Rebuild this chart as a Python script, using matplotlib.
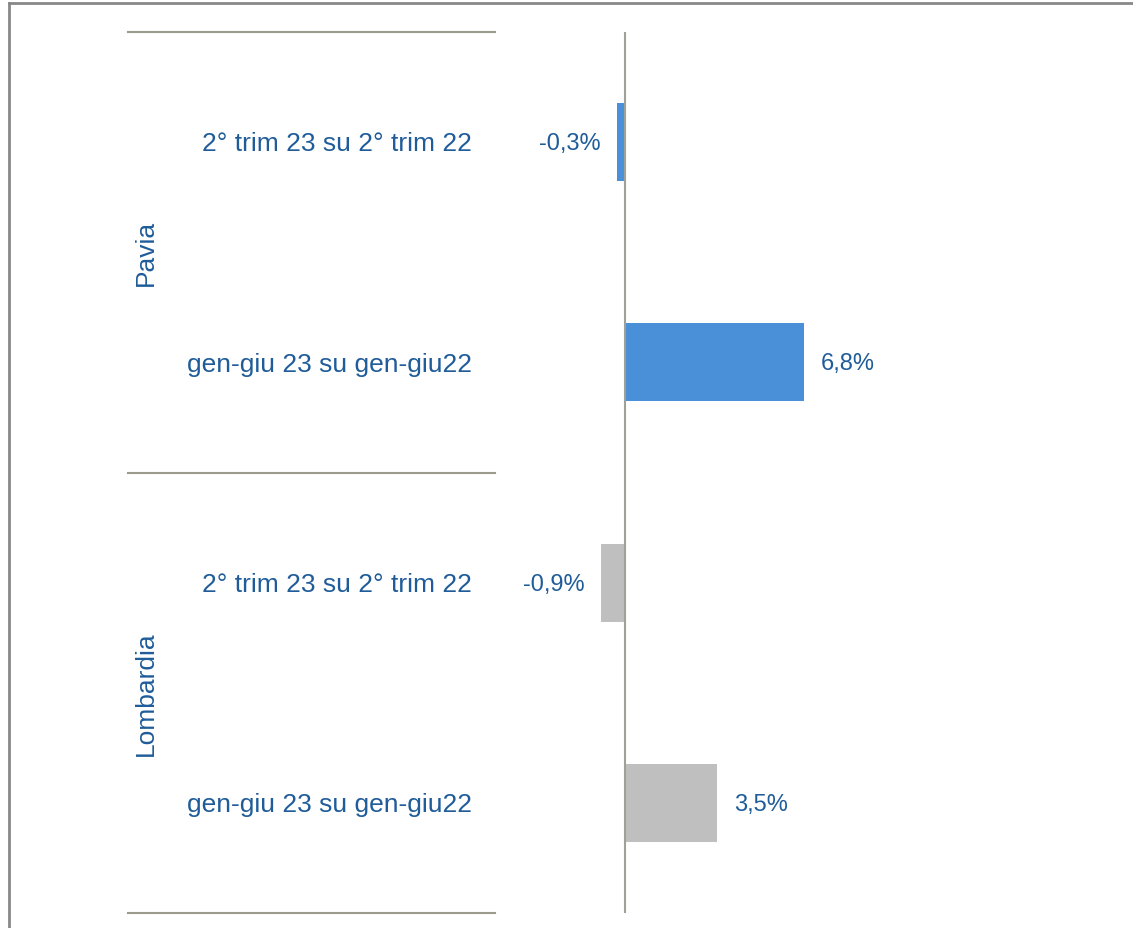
import matplotlib
matplotlib.use("Agg")
import matplotlib.pyplot as plt
import matplotlib.transforms as mtransforms
from matplotlib.lines import Line2D

plt.rcParams['font.family'] = ['Liberation Sans', 'DejaVu Sans']

# --- data ---
groups = ['Pavia', 'Lombardia']
periods = ['2° trim 23 su 2° trim 22', 'gen-giu 23 su gen-giu22']
pavia_vals = [-0.3, 6.8]
lombardia_vals = [-0.9, 3.5]
value_labels = ['-0,3%', '6,8%', '-0,9%', '3,5%']

blue = '#4A90D9'
grey = '#BFBFBF'
text_col = '#1F5C99'
line_col = '#9C9C8E'

W, H = 1133, 929
fig = plt.figure(figsize=(W / 100, H / 100), dpi=100)

# axes in pixel geometry
ax_l, ax_r, ax_t, ax_b = 128, 1120, 33, 914
ax = fig.add_axes([ax_l / W, 1 - ax_b / H, (ax_r - ax_l) / W, (ax_b - ax_t) / H])

px_per_pct = 26.25
zero_px = 625
ax.set_xlim(-(zero_px - ax_l) / px_per_pct, (ax_r - zero_px) / px_per_pct)
ax.set_ylim(3.5, -0.5)

vals = pavia_vals + lombardia_vals
colors = [blue, blue, grey, grey]
ypos = list(range(len(vals)))
ax.barh(ypos, vals, height=0.354, color=colors, zorder=2)

# zero line
ax.axvline(0, color='#A0A09A', linewidth=1.5, zorder=3)

# group separators
sep_end = (495 - ax_l) / (ax_r - ax_l)
for y in [-0.5, 1.5, 3.5]:
    ax.axhline(y, xmin=0, xmax=sep_end, color=line_col, linewidth=1.5, clip_on=False)

trans = mtransforms.blended_transform_factory(ax.transAxes, ax.transData)
lab_x = (472 - ax_l) / (ax_r - ax_l)
for i, y in enumerate(ypos):
    ax.text(lab_x, y + 0.006, periods[i % 2], transform=trans, ha='right', va='center',
            fontsize=19, color=text_col)

grp_x = (146 - ax_l) / (ax_r - ax_l)
for g, name in enumerate(groups):
    ax.text(grp_x, 2 * g + 0.5, name, transform=trans, ha='center', va='center',
            rotation=90, fontsize=19, color=text_col)

# value labels
for y, v, lab in zip(ypos, vals, value_labels):
    off = 17 if v >= 0 else -17
    ax.annotate(lab, (v, y), xytext=(off, -1), textcoords='offset pixels',
                ha='left' if v >= 0 else 'right', va='center',
                fontsize=17, color=text_col)

for s in ax.spines.values():
    s.set_visible(False)
ax.set_xticks([])
ax.set_yticks([])
ax.patch.set_alpha(0)

# outer frame (top and left)
fig.add_artist(Line2D([9 / W, 1], [1 - 4 / H, 1 - 4 / H], color='#888888', linewidth=2,
                      transform=fig.transFigure))
fig.add_artist(Line2D([9 / W, 9 / W], [0, 1 - 4 / H], color='#888888', linewidth=2,
                      transform=fig.transFigure))

fig.savefig('out.png', dpi=100)
